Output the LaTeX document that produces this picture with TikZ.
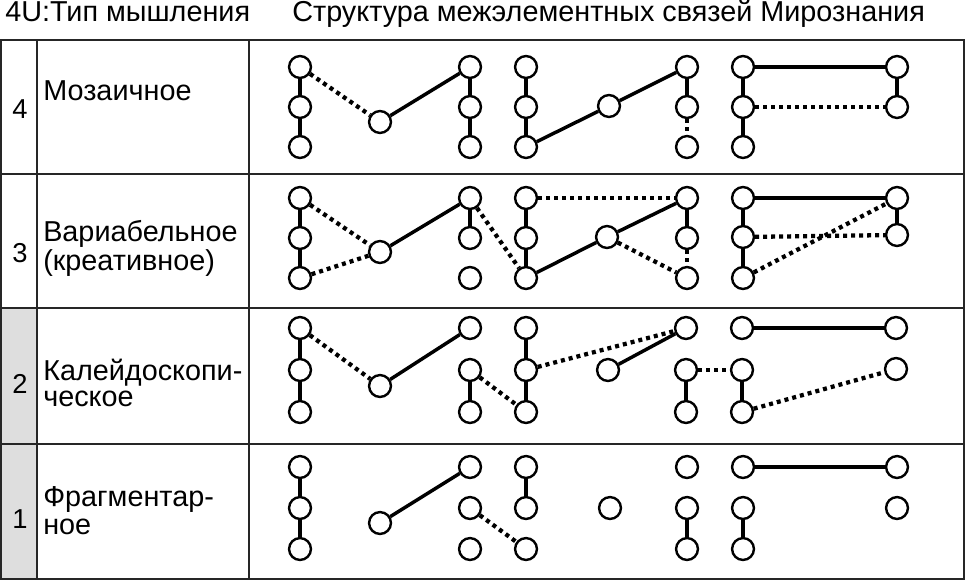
\documentclass[tikz,border=0pt]{standalone}
\usepackage{fontspec}
\setmainfont{Liberation Sans}
\begin{document}
\begin{tikzpicture}[x=0.75pt,y=-0.75pt,
  elem/.style={circle,draw,line width=1.8pt,minimum size=16.4pt,inner sep=0pt,fill=white},
  strong/.style={line width=2.6pt},
  weak/.style={line width=3.2pt,dash pattern=on 3pt off 3pt},
  gridline/.style={line width=1.5pt,draw=black!85},
  lbl/.style={font=\fontsize{21.6}{19.5}\selectfont,anchor=base west,inner sep=0pt,align=left},
  num/.style={font=\fontsize{20.5}{24}\selectfont,anchor=base,inner sep=0pt}]
\useasboundingbox (0,0) rectangle (966,581);
% table
\fill[black!13] (1,308) rectangle (37,579);
\draw[gridline] (1,40) rectangle (964,579);
\draw[gridline] (37,40) -- (37,579);
\draw[gridline] (249,40) -- (249,579);
\draw[gridline] (1,174) -- (964,174);
\draw[gridline] (1,308) -- (964,308);
\draw[gridline] (1,444) -- (964,444);
% header
\node[lbl] (h1) at (5,22) {4U:Тип мышления};
\node[lbl] (h2) at (292,22) {Структура межэлементных связей Мирознания};
% numbers and labels (base anchor = baseline of last line)
\node[num] (n4) at (20,118) {4};
\node[num] (n3) at (20,262) {3};
\node[num] (n2) at (20,393) {2};
\node[num] (n1) at (20,528) {1};
\node[lbl] (t4) at (43,101) {Мозаичное};
\node[lbl] (t3) at (43,270) {Вариабельное\\(креативное)};
\node[lbl] (t2) at (43,406) {Калейдоскопи-\\ческое};
\node[lbl] (t1) at (43,534) {Фрагментар-\\[1pt]ное};

% ---------- row 4 ----------
\foreach \n/\x/\y in {AL1/300/67,AL2/300/107,AL3/300/147,AM/380/122,AR1/470/67,AR2/470/107,AR3/470/147,
  BL1/526/67,BL2/526/107,BL3/526/147,BM/609/106,BR1/687/67,BR2/687/107,BR3/687/147,
  CL1/743/67,CL2/743/107,CL3/743/147,CR1/897/67,CR2/897/107}
  \node[elem] (d\n) at (\x,\y) {};
\draw[strong] (dAL1) -- (dAL2) -- (dAL3);
\draw[weak] (dAL1) -- (dAM);
\draw[strong] (dAM) -- (dAR1);
\draw[strong] (dAR1) -- (dAR2) -- (dAR3);
\draw[strong] (dBL1) -- (dBL2) -- (dBL3);
\draw[strong] (dBL3) -- (dBM);
\draw[strong] (dBM) -- (dBR1);
\draw[strong] (dBR1) -- (dBR2);
\draw[weak] (dBR2) -- (dBR3);
\draw[strong] (dCL1) -- (dCL2) -- (dCL3);
\draw[strong] (dCL1) -- (dCR1);
\draw[strong] (dCR1) -- (dCR2);
\draw[weak] (dCL2) -- (dCR2);

% ---------- row 3 ----------
\foreach \n/\x/\y in {AL1/300/198,AL2/300/238,AL3/300/278,AM/380/252,AR1/470/198,AR2/470/238,AR3/470/278,
  BL1/526/198,BL2/526/238,BL3/526/278,BM/607/237,BR1/687/198,BR2/687/238,BR3/687/278,
  CL1/743/198,CL2/743/237,CL3/743/278,CR1/897/198,CR2/897/235}
  \node[elem] (c\n) at (\x,\y) {};
\draw[strong] (cAL1) -- (cAL2) -- (cAL3);
\draw[weak] (cAL1) -- (cAM);
\draw[weak] (cAL3) -- (cAM);
\draw[strong] (cAM) -- (cAR1);
\draw[strong] (cAR1) -- (cAR2);
\draw[weak] (cAR1) -- (cBL3);
\draw[strong] (cBL1) -- (cBL2) -- (cBL3);
\draw[weak] (cBL1) -- (cBR1);
\draw[strong] (cBL3) -- (cBM);
\draw[strong] (cBM) -- (cBR1);
\draw[weak] (cBM) -- (cBR3);
\draw[strong] (cBR1) -- (cBR2);
\draw[weak] (cBR2) -- (cBR3);
\draw[strong] (cCL1) -- (cCL2) -- (cCL3);
\draw[strong] (cCL1) -- (cCR1);
\draw[strong] (cCR1) -- (cCR2);
\draw[weak] (cCL2) -- (cCR2);
\draw[weak] (cCL3) -- (cCR1);

% ---------- row 2 ----------
\foreach \n/\x/\y in {AL1/300/328,AL2/300/370,AL3/300/412,AM/380/386,AR1/470/328,AR2/470/370,AR3/470/412,
  BL1/526/328,BL2/526/370,BL3/526/412,BM/608/370,BR1/686/328,BR2/686/370,BR3/686/412,
  CL1/742/328,CL2/742/370,CL3/742/412,CR1/896/328,CR2/896/369}
  \node[elem] (b\n) at (\x,\y) {};
\draw[strong] (bAL1) -- (bAL2) -- (bAL3);
\draw[weak] (bAL1) -- (bAM);
\draw[strong] (bAM) -- (bAR1);
\draw[strong] (bAR2) -- (bAR3);
\draw[weak] (bAR2) -- (bBL3);
\draw[strong] (bBL1) -- (bBL2) -- (bBL3);
\draw[weak] (bBL2) -- (bBR1);
\draw[strong] (bBM) -- (bBR1);
\draw[strong] (bBR2) -- (bBR3);
\draw[weak] (bBR2) -- (bCL2);
\draw[strong] (bCL1) -- (bCR1);
\draw[strong] (bCL2) -- (bCL3);
\draw[weak] (bCL3) -- (bCR2);

% ---------- row 1 ----------
\foreach \n/\x/\y in {AL1/300/467,AL2/300/508,AL3/300/549,AM/380/523,AR1/470/467,AR2/470/508,AR3/470/549,
  BL1/526/467,BL2/526/508,BL3/526/549,BM/610/508,BR1/687/467,BR2/687/508,BR3/687/549,
  CL1/743/467,CL2/743/508,CL3/743/549,CR1/897/467,CR2/897/508}
  \node[elem] (a\n) at (\x,\y) {};
\draw[strong] (aAL1) -- (aAL2) -- (aAL3);
\draw[strong] (aAM) -- (aAR1);
\draw[weak] (aAR2) -- (aBL3);
\draw[strong] (aBL1) -- (aBL2);
\draw[strong] (aBR2) -- (aBR3);
\draw[strong] (aCL1) -- (aCR1);
\draw[strong] (aCL2) -- (aCL3);
\end{tikzpicture}
\end{document}
